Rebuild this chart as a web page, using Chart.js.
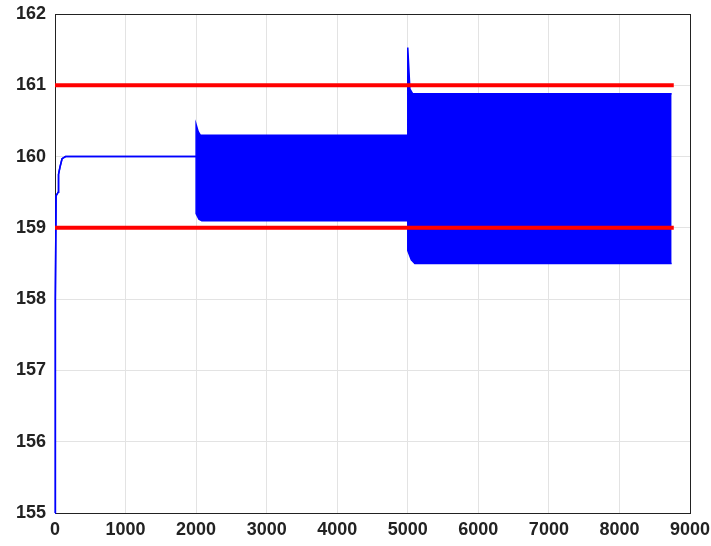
<!DOCTYPE html>
<html>
<head>
<meta charset="utf-8">
<script src="https://cdn.jsdelivr.net/npm/chart.js@4.4.1/dist/chart.umd.min.js"></script>
<style>
  html, body { margin: 0; padding: 0; background: #fff; }
  #wrap { width: 711px; height: 546px; }
</style>
</head>
<body>
<div id="wrap"><canvas id="chart"></canvas></div>
<script>
// x ticks / y ticks
const xTicks = [0, 1000, 2000, 3000, 4000, 5000, 6000, 7000, 8000, 9000];
const yTicks = [155, 156, 157, 158, 159, 160, 161, 162];

// upper envelope of the blue signal (lead-in then the oscillation tops)
const upperTime = [0, 5, 15, 45, 50, 70, 100, 150, 2000, 2000, 2030, 2060, 5000, 5000, 5030, 5070, 8740];
const upperValue = [155, 158, 159.45, 159.5, 159.75, 159.85, 159.97, 160, 160, 160.45, 160.35, 160.3, 160.3, 161.53, 160.95, 160.88, 160.88];

// lower envelope (same lead-in, then the oscillation bottoms)
const lowerTime = [0, 5, 15, 45, 50, 70, 100, 150, 2000, 2000, 2040, 2080, 5000, 5000, 5050, 5100, 8740];
const lowerValue = [155, 158, 159.45, 159.5, 159.75, 159.85, 159.97, 160, 160, 159.2, 159.12, 159.1, 159.1, 158.68, 158.55, 158.5, 158.5];

// red limit lines
const limitTime = [0, 8770];
const upperLimit = [161, 161];
const lowerLimit = [159, 159];

const toPoints = (xs, ys) => xs.map((x, i) => ({ x: x, y: ys[i] }));

// box around the plot area, like the matlab axes (drawn under the data)
const boxPlugin = {
  id: "box",
  beforeDatasetsDraw(chart) {
    const { ctx, chartArea: a } = chart;
    ctx.save();
    ctx.strokeStyle = "#222";
    ctx.lineWidth = 1;
    ctx.strokeRect(a.left + 0.5, a.top + 0.5, a.right - a.left, a.bottom - a.top);
    ctx.restore();
  }
};

const tickFont = { family: "'Liberation Sans', Arial, sans-serif", size: 18, weight: "bold" };

new Chart(document.getElementById("chart"), {
  type: "line",
  data: {
    datasets: [
      {
        data: toPoints(limitTime, upperLimit),
        borderColor: "#ff0000",
        borderWidth: 4,
        pointRadius: 0,
        fill: false
      },
      {
        data: toPoints(limitTime, lowerLimit),
        borderColor: "#ff0000",
        borderWidth: 4,
        pointRadius: 0,
        fill: false
      },
      {
        data: toPoints(upperTime, upperValue),
        borderColor: "#0000ff",
        backgroundColor: "#0000ff",
        borderWidth: 1.5,
        pointRadius: 0,
        clip: 3,
        fill: "+1"
      },
      {
        data: toPoints(lowerTime, lowerValue),
        borderColor: "#0000ff",
        borderWidth: 1.5,
        pointRadius: 0,
        clip: 3,
        fill: false
      }
    ]
  },
  options: {
    responsive: true,
    maintainAspectRatio: false,
    animation: false,
    layout: { padding: { top: 14, right: 21, left: 0, bottom: 0 } },
    plugins: {
      legend: { display: false },
      tooltip: { enabled: false }
    },
    scales: {
      x: {
        type: "linear",
        min: 0,
        max: 9000,
        afterBuildTicks: (s) => { s.ticks = xTicks.map(v => ({ value: v })); },
        afterFit: (s) => { s.height = 33; s.paddingLeft = 0; s.paddingRight = 0; },
        ticks: { font: tickFont, color: "#222", padding: 6, maxRotation: 0, callback: (v) => String(v) },
        grid: { color: "#e3e3e3", drawTicks: false },
        border: { color: "#222" }
      },
      y: {
        min: 155,
        max: 162,
        afterBuildTicks: (s) => { s.ticks = yTicks.map(v => ({ value: v })); },
        afterFit: (s) => { s.width = 55; s.paddingTop = 0; s.paddingBottom = 0; },
        ticks: { font: tickFont, color: "#222", padding: 9, callback: (v) => String(v) },
        grid: { color: "#e3e3e3", drawTicks: false },
        border: { color: "#222" }
      }
    }
  },
  plugins: [boxPlugin]
});
</script>
</body>
</html>
